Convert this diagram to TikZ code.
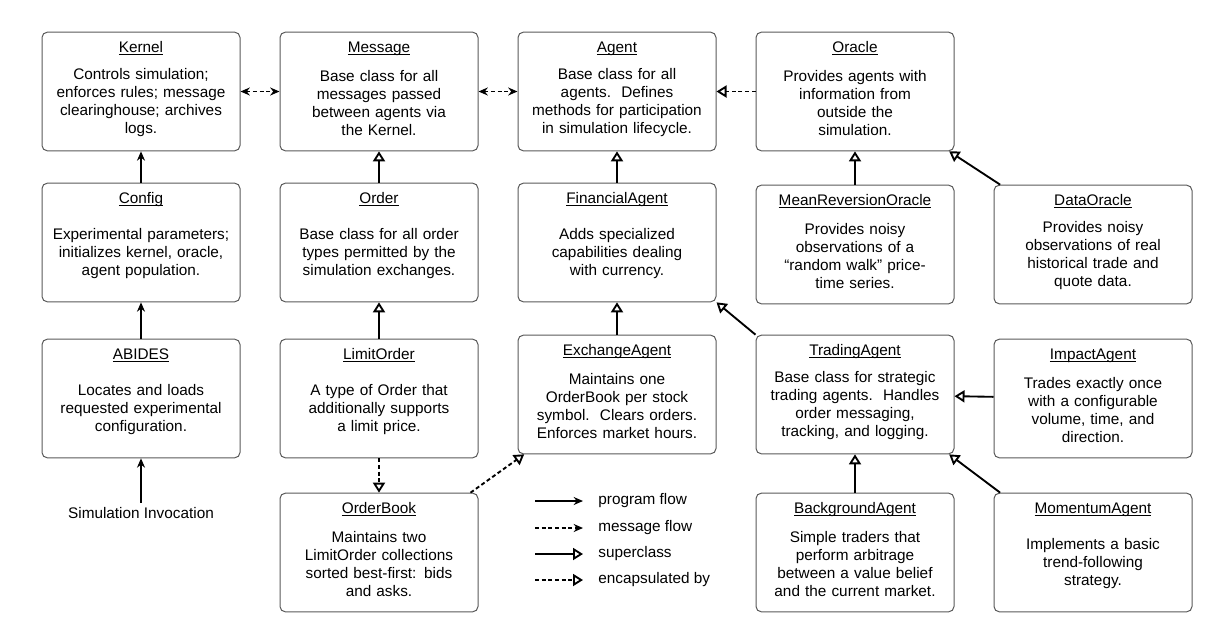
\documentclass[tikz,border=0pt]{standalone}
\usepackage{fontspec}
\setmainfont{Liberation Sans}
\usetikzlibrary{arrows.meta,positioning}

\newcommand{\clsname}[1]{\underline{\smash{#1}}}

\tikzset{
  cls/.style={rectangle, draw=black!65, line width=0.75pt, rounded corners=4pt, minimum width=148.5pt, minimum height=89pt, text width=145pt, inner xsep=1.5pt, align=center, execute at begin node={\rule{0pt}{25pt}}},
  ttl/.style={anchor=base, yshift=-15.5pt},
  prog/.style={-{Stealth[length=7pt,width=6pt]}, line width=1.4pt},
  msg/.style={prog, dash pattern=on 3pt off 2pt},
  twoway/.style={{Stealth[length=7pt,width=6pt]}-{Stealth[length=7pt,width=6pt]}, line width=1.4pt, dash pattern=on 3pt off 2pt},
  sup/.style={-{Triangle[open,length=7.5pt,width=9pt]}, line width=1.4pt},
  enc/.style={sup, dash pattern=on 3pt off 2pt}
}

\begin{document}
\begin{tikzpicture}[x=0.75pt, y=-0.75pt, every node/.style={font=\fontsize{11.5pt}{13.5pt}\selectfont}]
\useasboundingbox (0,0) rectangle (1222,636);
% top row
\node[cls, label={[ttl]north:\clsname{Kernel}}] (kernel) at (141,91.5) {Controls simulation;\\enforces rules; message\\clearinghouse; archives\\logs.};
\node[cls, label={[ttl]north:\clsname{Message}}, right of=kernel, node distance=178.5pt] (message) {Base class for all\\messages passed\\between agents via\\the Kernel.};
\node[cls, label={[ttl]north:\clsname{Agent}}, right of=message, node distance=178.5pt] (agent) {Base class for all\\agents.~~Defines\\methods for participation\\in simulation lifecycle.};
\node[cls, label={[ttl]north:\clsname{Oracle}}, right of=agent, node distance=178.5pt] (oracle) {Provides agents with\\information from\\outside the\\simulation.};
% second row
\node[cls, label={[ttl]north:\clsname{Config}}, below of=kernel, node distance=113.25pt] (config) {Experimental parameters;\\initializes kernel, oracle,\\agent population.};
\node[cls, label={[ttl]north:\clsname{Order}}, below of=message, node distance=113.25pt] (order) {Base class for all order\\types permitted by the\\simulation exchanges.};
\node[cls, label={[ttl]north:\clsname{FinancialAgent}}, below of=agent, node distance=113.25pt] (financial) {Adds specialized\\capabilities dealing\\with currency.};
\node[cls, label={[ttl]north:\clsname{MeanReversionOracle}}, below of=oracle, node distance=114.75pt] (meanrev) {Provides noisy\\observations of a\\“random walk” price-\\time series.};
\node[cls, label={[ttl]north:\clsname{DataOracle}}, right of=meanrev, node distance=178.5pt] (dataoracle) {Provides noisy\\observations of real\\historical trade and\\quote data.};
% third row
\node[cls, label={[ttl]north:\clsname{ABIDES}}, below of=config, node distance=117pt] (abides) {Locates and loads\\requested experimental\\configuration.};
\node[cls, label={[ttl]north:\clsname{LimitOrder}}, below of=order, node distance=117pt] (limitorder) {A type of Order that\\additionally supports\\a limit price.};
\node[cls, label={[ttl]north:\clsname{ExchangeAgent}}, below of=financial, node distance=114pt] (exchange) {Maintains one\\OrderBook per stock\\symbol.~~Clears orders.\\Enforces market hours.};
\node[cls, label={[ttl]north:\clsname{TradingAgent}}, right of=exchange, node distance=178.5pt] (trading) {Base class for strategic\\trading agents.~~Handles\\order messaging,\\tracking, and logging.};
\node[cls, label={[ttl]north:\clsname{ImpactAgent}}, below of=dataoracle, node distance=115.5pt] (impact) {Trades exactly once\\with a configurable\\volume, time, and\\direction.};
% bottom row
\node[below of=abides, node distance=86pt] (invoke) {Simulation Invocation};
\node[cls, label={[ttl]north:\clsname{OrderBook}}, below of=limitorder, node distance=115.5pt] (orderbook) {Maintains two\\LimitOrder collections\\sorted best-first: bids\\and asks.};
\node[cls, label={[ttl]north:\clsname{BackgroundAgent}}, below of=trading, node distance=118.5pt] (background) {Simple traders that\\perform arbitrage\\between a value belief\\and the current market.};
\node[cls, label={[ttl]north:\clsname{MomentumAgent}}, right of=background, node distance=178.5pt] (momentum) {Implements a basic\\trend-following\\strategy.};
% legend
\coordinate (prog-a) at (535,501);
\coordinate (prog-b) at (583,501);
\coordinate (msg-a) at (535,528);
\coordinate (msg-b) at (583,528);
\coordinate (sup-a) at (535,554);
\coordinate (sup-b) at (583,554);
\coordinate (enc-a) at (535,580);
\coordinate (enc-b) at (583,580);
\node[right=8pt of prog-b] (prog-t) {program flow};
\node[right=8pt of msg-b] (msg-t) {message flow};
\node[right=8pt of sup-b] (sup-t) {superclass};
\node[right=8pt of enc-b] (enc-t) {encapsulated by};
\draw[prog] (prog-a) -- (prog-b);
\draw[msg] (msg-a) -- (msg-b);
\draw[sup] (sup-a) -- (sup-b);
\draw[enc] (enc-a) -- (enc-b);
% program flow
\draw[prog] (invoke) -- (abides);
\draw[prog] (abides) -- (config);
\draw[prog] (config) -- (kernel);
% messages
\draw[twoway] (kernel) -- (message);
\draw[twoway] (message) -- (agent);
\draw[enc] (oracle) -- (agent);
% class hierarchy
\draw[sup] (order) -- (message);
\draw[sup] (limitorder) -- (order);
\draw[enc] (limitorder) -- (orderbook);
\draw[enc] ([xshift=-6pt]orderbook.north east) -- ([xshift=5pt]exchange.south west);
\draw[sup] (financial) -- (agent);
\draw[sup] (exchange) -- (financial);
\draw[sup] (trading.north west) -- (financial.south east);
\draw[sup] (meanrev) -- (oracle);
\draw[sup] ([xshift=5pt]dataoracle.north west) -- ([xshift=-4pt]oracle.south east);
\draw[sup] (impact) -- (trading);
\draw[sup] (background) -- (trading);
\draw[sup] ([xshift=5pt]momentum.north west) -- ([xshift=-4pt]trading.south east);
\end{tikzpicture}
\end{document}
